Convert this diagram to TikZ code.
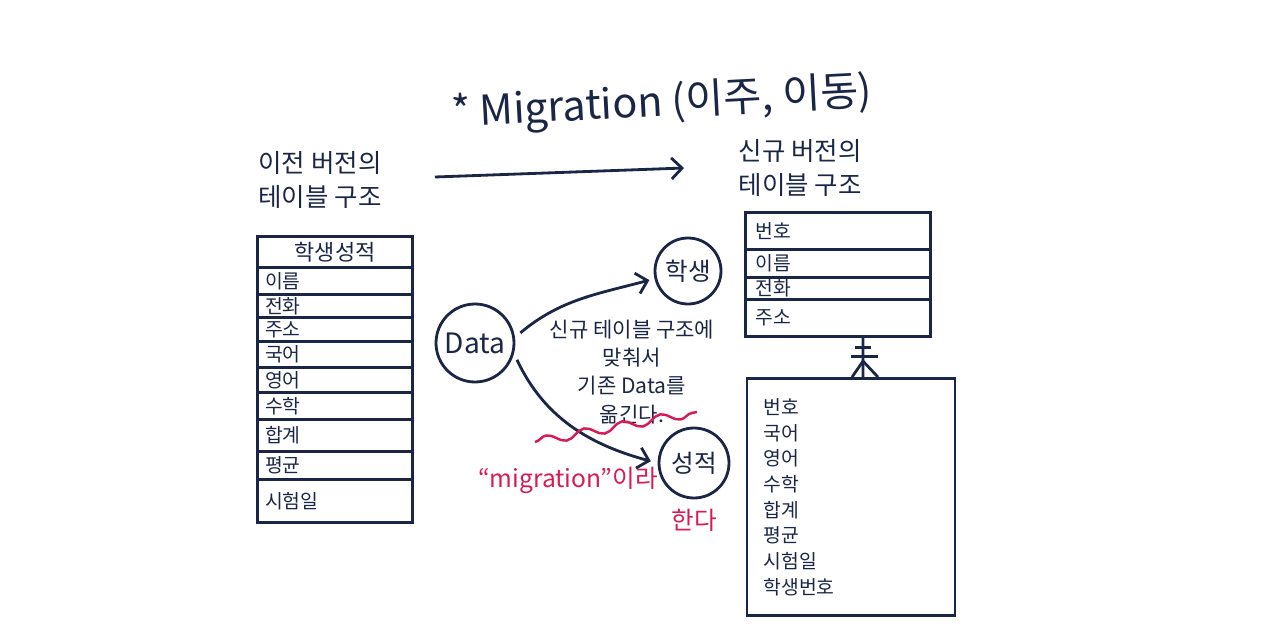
\documentclass[tikz,border=0pt]{standalone}
\usepackage{fontspec}
\setmainfont{Noto Sans CJK KR}
\usetikzlibrary{arrows.meta, positioning, decorations.pathmorphing}
\definecolor{ink}{HTML}{1B2647}
\definecolor{redink}{HTML}{D81B55}
\tikzstyle{titletext} = [text=ink, font=\fontsize{23.5}{27}\selectfont]
\tikzstyle{heading} = [text=ink, align=center, font=\fontsize{14.5}{19.5}\selectfont]
\tikzstyle{row} = [rectangle, draw=ink, line width=1.6pt, outer sep=0pt, text=ink, minimum width=3.1cm, text width=2.8cm, inner xsep=0.15cm, inner ysep=0pt, align=left, font=\fontsize{11}{13}\selectfont]
\tikzstyle{rowhead} = [row, align=center, font=\fontsize{12.5}{14}\selectfont]
\tikzstyle{newrow} = [row, minimum width=3.7cm, text width=3.3cm, inner xsep=0.2cm]
\tikzstyle{tablebox} = [rectangle, draw=ink, line width=1.6pt, text=ink, align=left, font=\fontsize{11}{14.6}\selectfont]
\tikzstyle{entity} = [circle, draw=ink, line width=1.6pt, text=ink, inner sep=0pt]
\tikzstyle{notetext} = [text=ink, align=center, font=\fontsize{12}{16}\selectfont]
\tikzstyle{redtext} = [text=redink, font=\fontsize{14}{16}\selectfont]
\tikzstyle{arrow} = [ink, line width=1.6pt, -{Straight Barb[length=6pt, width=12pt]}]
\tikzstyle{relline} = [ink, line width=1.6pt]
\tikzstyle{wavy} = [redink, line width=1.4pt, decorate, decoration={snake, amplitude=2.5pt, segment length=22pt}]

\begin{document}
\begin{tikzpicture}[x=0.02cm, y=-0.02cm]
    \useasboundingbox (0,0) rectangle (1280,635);

    % Title
    \node (title) [titletext, rotate=3] at (662,104) {* Migration (이주, 이동)};

    % Headers
    \node (oldhead) [heading] at (320,180) {이전 버전의\\테이블 구조};
    \node (newhead) [heading] at (800,168) {신규 버전의\\테이블 구조};
    \coordinate (migfrom) at (435,177);
    \coordinate (migto) at (684,168);

    % Old table
    \node (oldtab) [rowhead, minimum height=0.62cm] at (335,252) {학생성적};
    \node (oldname) [row, minimum height=0.54cm, below=0pt of oldtab] {이름};
    \node (oldtel) [row, minimum height=0.46cm, below=0pt of oldname] {전화};
    \node (oldaddr) [row, minimum height=0.48cm, below=0pt of oldtel] {주소};
    \node (oldkor) [row, minimum height=0.52cm, below=0pt of oldaddr] {국어};
    \node (oldeng) [row, minimum height=0.50cm, below=0pt of oldkor] {영어};
    \node (oldmath) [row, minimum height=0.54cm, below=0pt of oldeng] {수학};
    \node (oldsum) [row, minimum height=0.64cm, below=0pt of oldmath] {합계};
    \node (oldavg) [row, minimum height=0.56cm, below=0pt of oldsum] {평균};
    \node (olddate) [row, minimum height=0.86cm, below=0pt of oldavg] {시험일};

    % New tables
    \node (stuno) [newrow, minimum height=0.74cm] at (838,231) {번호};
    \node (stuname) [newrow, minimum height=0.56cm, below=0pt of stuno] {이름};
    \node (stutel) [newrow, minimum height=0.44cm, below=0pt of stuname] {전화};
    \node (stuaddr) [newrow, minimum height=0.74cm, below=0pt of stutel] {주소};
    \node (score) [tablebox, minimum width=4.16cm, minimum height=4.74cm, text width=3.5cm, inner xsep=0.33cm] at (851,497)
        {번호\\국어\\영어\\수학\\합계\\평균\\시험일\\학생번호};

    % Circles
    \node (data) [entity, minimum size=1.56cm, font=\fontsize{16}{18}\selectfont] at (475,343) {Data};
    \node (student) [entity, minimum size=1.32cm, font=\fontsize{14}{16}\selectfont] at (688,271) {학생};
    \node (grade) [entity, minimum size=1.4cm, font=\fontsize{14}{16}\selectfont] at (694,463) {성적};

    % Notes
    \node (note) [notetext] at (632,372) {신규 테이블 구조에\\맞춰서\\기존 Data를\\옮긴다.};
    \node (mignote) [redtext] at (568,480) {“migration”이라};
    \node (mignote2) [redtext] at (694,520) {한다};

    % Arrows
    \draw [arrow] (migfrom) -- (migto);
    \draw [arrow, shorten <=4pt, shorten >=3pt] (data.8) to[out=40, in=195] (student.193);
    \draw [arrow, shorten <=4pt, shorten >=4pt] (data.-15) to[out=-65, in=165] (grade.west);
    \draw [wavy] (535,442) -- (697,412);

    % Relation
    \coordinate (relA) at ([xshift=0.5cm]stuaddr.south);
    \coordinate (relB) at ([xshift=0.24cm]score.north);
    \draw [relline] (relA) -- (relB);
    \draw [relline] ([yshift=-0.22cm]relA) +(-0.16cm,0) -- +(0.16cm,0);
    \draw [relline] ([yshift=0.42cm]relB) +(-0.24cm,0) -- +(0.3cm,0);
    \draw [relline] ([xshift=-0.22cm]relB) -- ([yshift=0.32cm]relB) -- ([xshift=0.3cm]relB);

\end{tikzpicture}
\end{document}
